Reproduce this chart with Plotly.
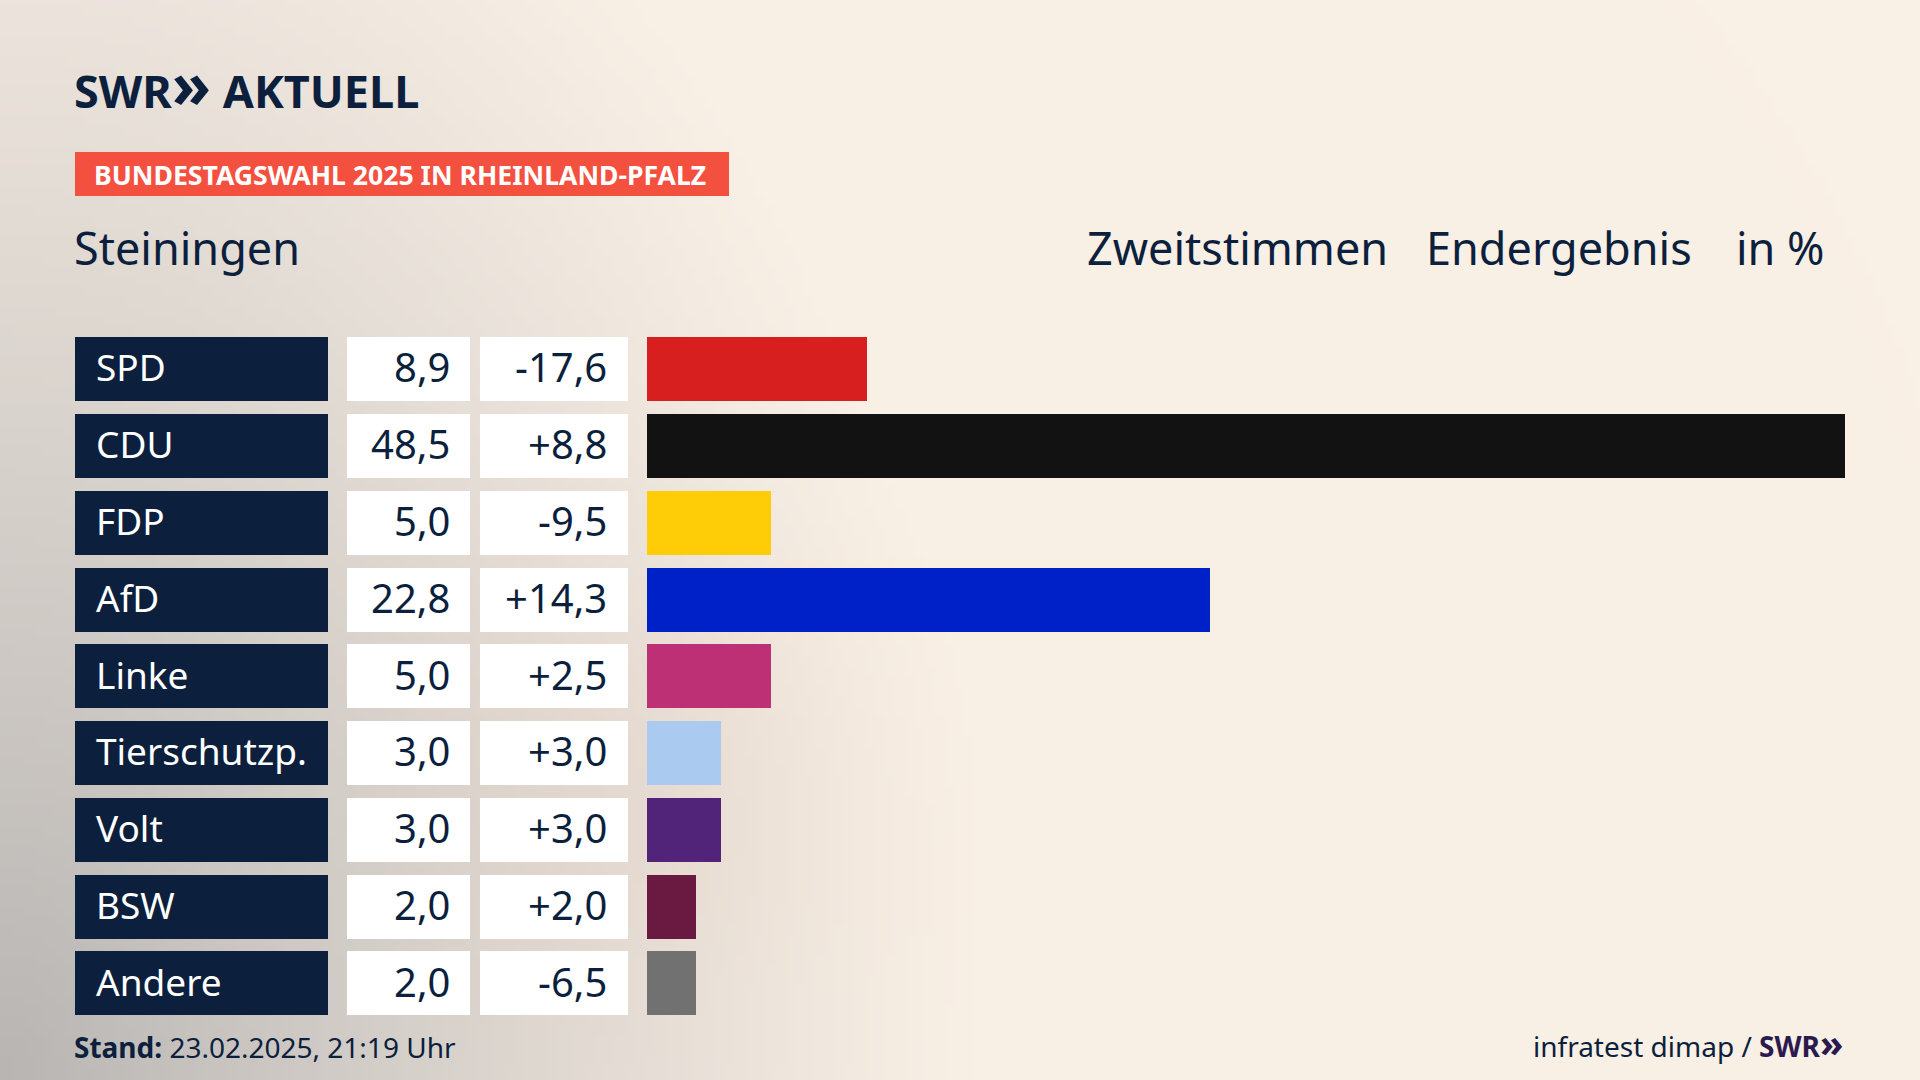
import base64
import struct
import zlib

import numpy as np
import plotly.graph_objs as go

parties = ["SPD", "CDU", "FDP", "AfD", "Linke", "Tierschutzp.", "Volt", "BSW", "Andere"]
shares = [8.9, 48.5, 5.0, 22.8, 5.0, 3.0, 3.0, 2.0, 2.0]
changes = [-17.6, 8.8, -9.5, 14.3, 2.5, 3.0, 3.0, 2.0, -6.5]
party_colors = ["#D71F1F", "#121212", "#FFCC08", "#0021C8", "#BD3075",
                "#AACAF0", "#512379", "#6A1A40", "#717171"]

NAVY = "#0C1F3D"
FONT = "Noto Sans"
W, H = 1920, 1080


def fmt(v, sign=False):
    s = f"{v:+.1f}" if sign else f"{v:.1f}"
    return s.replace(".", ",")


# background: cream with a grey shade from the lower left corner
def background_uri(w=192, h=108):
    u = (np.arange(w) + 0.5) / w
    v = (np.arange(h) + 0.5) / h
    uu, vv = np.meshgrid(u, v)
    d = np.clip(1 - np.sqrt((uu / 0.52) ** 2 + ((1 - vv) / 1.35) ** 2), 0, 1) ** 1.2
    cream = np.array([249, 240, 230], dtype=float)
    grey = np.array([184, 181, 179], dtype=float)
    img = cream * (1 - d[..., None]) + grey * d[..., None]
    # faint warm glow in the middle
    g = np.exp(-(((uu - 0.33) / 0.12) ** 2 + ((vv - 0.72) / 0.2) ** 2))
    img = img + g[..., None] * np.array([-3, -9, -12]) * 0.6
    img = np.clip(img, 0, 255).astype(np.uint8)
    raw = b"".join(b"\x00" + img[i].tobytes() for i in range(h))

    def chunk(t, data):
        return (struct.pack(">I", len(data)) + t + data
                + struct.pack(">I", zlib.crc32(t + data) & 0xFFFFFFFF))

    png = (b"\x89PNG\r\n\x1a\n"
           + chunk(b"IHDR", struct.pack(">IIBBBBB", w, h, 8, 2, 0, 0, 0))
           + chunk(b"IDAT", zlib.compress(raw, 9))
           + chunk(b"IEND", b""))
    return "data:image/png;base64," + base64.b64encode(png).decode()


ones = [1] * len(parties)
bw = 0.834

fig = go.Figure()
# label boxes, value boxes, change boxes
fig.add_trace(go.Bar(x=ones, y=parties, orientation="h", width=bw,
                     marker_color=NAVY, xaxis="x2", yaxis="y", hoverinfo="skip"))
fig.add_trace(go.Bar(x=ones, y=parties, orientation="h", width=bw,
                     marker_color="white", xaxis="x3", yaxis="y", hoverinfo="skip"))
fig.add_trace(go.Bar(x=ones, y=parties, orientation="h", width=bw,
                     marker_color="white", xaxis="x4", yaxis="y", hoverinfo="skip"))
# result bars
fig.add_trace(go.Bar(x=shares, y=parties, orientation="h", width=bw,
                     marker_color=party_colors, xaxis="x", yaxis="y"))

for trace in fig.data:
    trace.marker.line.width = 0

annotations = []
for p, s, c in zip(parties, shares, changes):
    annotations.append(dict(x=0, y=p, xref="x2", yref="y", text=p, xanchor="left",
                            xshift=19, yshift=2, showarrow=False,
                            font=dict(family=FONT, size=37, color="white")))
    annotations.append(dict(x=1, y=p, xref="x3", yref="y", text=fmt(s), xanchor="right",
                            xshift=-18, yshift=2, showarrow=False,
                            font=dict(family=FONT, size=40, color=NAVY)))
    annotations.append(dict(x=1, y=p, xref="x4", yref="y", text=fmt(c, True),
                            xanchor="right", xshift=-19, yshift=2, showarrow=False,
                            font=dict(family=FONT, size=40, color=NAVY)))


def txt(x, y, text, size, anchor="left", color=NAVY):
    annotations.append(dict(x=x / W, y=1 - y / H, xref="paper", yref="paper", text=text,
                            xanchor=anchor, yanchor="middle", showarrow=False,
                            font=dict(family=FONT, size=size, color=color)))


txt(72, 84, "<b>SWR<span style='font-size:64px'>»</span> AKTUELL</b>", 45)
txt(92, 175, "<b>BUNDESTAGSWAHL 2025 IN RHEINLAND-PFALZ</b>", 26.6, color="white")
txt(72, 247, "Steiningen", 45)
txt(1085, 247, "Zweitstimmen", 45)
txt(1424, 247, "Endergebnis", 45)
txt(1827, 247, "in %", 45, anchor="right")
txt(72, 1047, "<b>Stand:</b> 23.02.2025, 21:19 Uhr", 28)
txt(1845, 1042, "infratest dimap / <b><span style='color:#2B1A4F'>SWR"
    "<span style='font-size:38px'>»</span></span></b>", 28, anchor="right")

ydom = [1 - 1021.4 / H, 1 - 330.6 / H]
hidden = dict(visible=False, showgrid=False, zeroline=False, fixedrange=True)

fig.update_layout(
    width=W, height=H,
    margin=dict(l=0, r=0, t=0, b=0),
    paper_bgcolor="#F9F0E6", plot_bgcolor="rgba(0,0,0,0)",
    showlegend=False,
    bargap=0,
    xaxis=dict(domain=[647 / W, 1845 / W], range=[0, 48.5], **hidden),
    xaxis2=dict(domain=[75 / W, 328 / W], range=[0, 1], anchor="y", **hidden),
    xaxis3=dict(domain=[347 / W, 470 / W], range=[0, 1], anchor="y", **hidden),
    xaxis4=dict(domain=[480 / W, 628 / W], range=[0, 1], anchor="y", **hidden),
    yaxis=dict(domain=ydom, categoryorder="array", categoryarray=parties,
               range=[len(parties) - 0.5, -0.5], **hidden),
    annotations=annotations,
    shapes=[dict(type="rect", xref="paper", yref="paper", x0=75 / W, x1=729 / W,
                 y0=1 - 196 / H, y1=1 - 152 / H, fillcolor="#F4503F", line_width=0,
                 layer="below")],
    images=[dict(source=background_uri(), xref="paper", yref="paper", x=0, y=1,
                 sizex=1, sizey=1, sizing="stretch", layer="below")],
)

fig.write_html("out.html", config={"displayModeBar": False},
               post_script="document.body.style.margin='0';")
